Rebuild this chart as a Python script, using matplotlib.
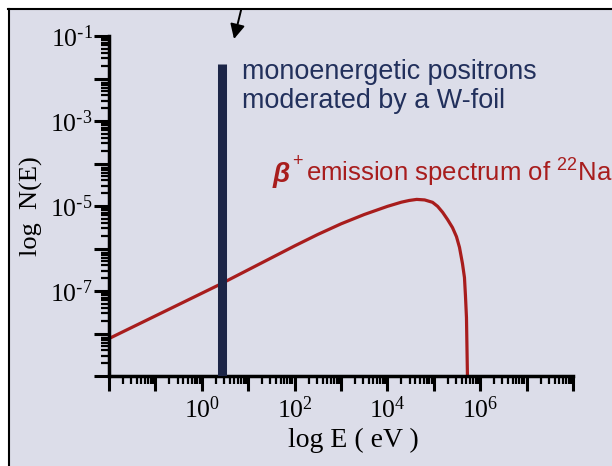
import numpy as np
import matplotlib
matplotlib.use("Agg")
import matplotlib.pyplot as plt
from matplotlib.patches import Rectangle
from matplotlib.lines import Line2D
from matplotlib.ticker import LogLocator, NullFormatter

# beta+ spectrum of Na-22 (energy in eV, N(E))
E_beta = [1e-2, 2.3, 1e2, 3.16e2, 1e3, 3.16e3, 1e4, 2e4, 2.95e4,
          4.28e4, 6.35e4, 9.4e4, 1.21e5, 1.55e5, 1.98e5, 2.53e5, 3.08e5,
          3.58e5, 4.15e5, 4.58e5, 4.81e5, 5.06e5, 5.31e5]
N_beta = [7.6e-9, 1.38e-7, 1.15e-6, 2.14e-6, 3.8e-6, 6.3e-6, 9.8e-6, 1.23e-5,
          1.35e-5, 1.43e-5, 1.39e-5, 1.22e-5, 9.8e-6, 7.1e-6, 4.8e-6,
          3.1e-6, 1.9e-6, 1.06e-6, 4.4e-7, 2.07e-7, 7.8e-8, 2.36e-8, 1e-9]

# moderated positrons (W-foil), one line
E_mono = 2.75
N_mono = 2.2e-2

x_ticks = [10.0**k for k in range(-2, 9)]
x_labels = ["", "", r"$\mathdefault{10^{0}}$", "", r"$\mathdefault{10^{2}}$", "",
            r"$\mathdefault{10^{4}}$", "", r"$\mathdefault{10^{6}}$", "", ""]
y_ticks = [10.0**k for k in range(-9, 0)]
y_labels = ["", "", r"$\mathdefault{10^{\text{-}7}}$", "", r"$\mathdefault{10^{\text{-}5}}$", "",
            r"$\mathdefault{10^{\text{-}3}}$", "", r"$\mathdefault{10^{\text{-}1}}$"]

bg = "#dcdde9"
red = "#a81d1d"
navy = "#1c2547"
serif = "Liberation Serif"
sans = "Liberation Sans"

fig = plt.figure(figsize=(6.12, 4.66), dpi=100, facecolor=bg)
ax = fig.add_axes([109/612, 1-376/466, (573-109)/612, (376-36)/466])
ax.set_facecolor(bg)

ax.plot(E_beta, N_beta, color=red, lw=2.3, zorder=2)
ax.vlines(E_mono, 1e-9, N_mono, color=navy, lw=6.5, zorder=3, capstyle="butt")

ax.set_xscale("log")
ax.set_yscale("log")
ax.set_xlim(1e-2, 1e8)
ax.set_ylim(1e-9, 1e-1)

ax.set_xticks(x_ticks)
ax.set_xticklabels(x_labels, family=serif, fontsize=18.5)
ax.set_yticks(y_ticks)
ax.set_yticklabels(y_labels, family=serif, fontsize=18.5)
ax.xaxis.set_minor_locator(LogLocator(base=10, subs=np.arange(2, 10), numticks=50))
ax.yaxis.set_minor_locator(LogLocator(base=10, subs=np.arange(2, 10), numticks=50))
ax.xaxis.set_minor_formatter(NullFormatter())
ax.yaxis.set_minor_formatter(NullFormatter())
ax.tick_params(which="major", direction="out", length=11, width=2.2, color="black", pad=0.5)
ax.tick_params(which="minor", direction="out", length=6, width=1.6, color="black")
ax.tick_params(axis="x", which="major", pad=4)

for s in ["top", "right"]:
    ax.spines[s].set_visible(False)
for s in ["left", "bottom"]:
    ax.spines[s].set_linewidth(2.5)

ax.set_xlabel("log E ( eV )", family=serif, fontsize=20, labelpad=3)
ax.xaxis.label.set_x((353-109)/464)
ax.set_ylabel("log  N(E)", family=serif, fontsize=19, labelpad=5)

# annotations
fig.text(242/612, 1-79/466, "monoenergetic positrons", color="#22305c",
         family=sans, fontsize=19.4, va="baseline")
fig.text(242/612, 1-108/466, "moderated by a W-foil", color="#22305c",
         family=sans, fontsize=19.4, va="baseline")

fig.text(273/612, 1-182/466, "\u03b2", color=red, family=sans, fontsize=20,
         fontweight="bold", style="italic", va="baseline")
fig.text(292/612, 1-166/466, "+", color=red, family=sans, fontsize=13, va="baseline")
fig.text(306/612, 1-182/466, r"emission spectrum of $\mathdefault{^{22}}$Na",
         color=red, family=sans, fontsize=18.5, va="baseline")

# scanned-page frame and arrow
fig.add_artist(Rectangle((0, 1-8/466), 1, 8/466, transform=fig.transFigure,
                         facecolor="white", edgecolor="none"))
fig.add_artist(Rectangle((0, 0), 8/612, 1, transform=fig.transFigure,
                         facecolor="white", edgecolor="none"))
fig.add_artist(Line2D([8/612, 1], [1-8.5/466, 1-8.5/466], transform=fig.transFigure,
                      color="black", lw=1.5))
fig.add_artist(Line2D([8.5/612, 8.5/612], [0, 1-8.5/466], transform=fig.transFigure,
                      color="black", lw=1.5))
ax.annotate("", xy=(234, 466-39), xytext=(244, 468), xycoords="figure pixels",
            textcoords="figure pixels", annotation_clip=False,
            arrowprops=dict(arrowstyle="-|>", mutation_scale=22, lw=1.4,
                            color="black", shrinkA=0, shrinkB=0))

fig.savefig("out.png", dpi=100, facecolor=bg)
